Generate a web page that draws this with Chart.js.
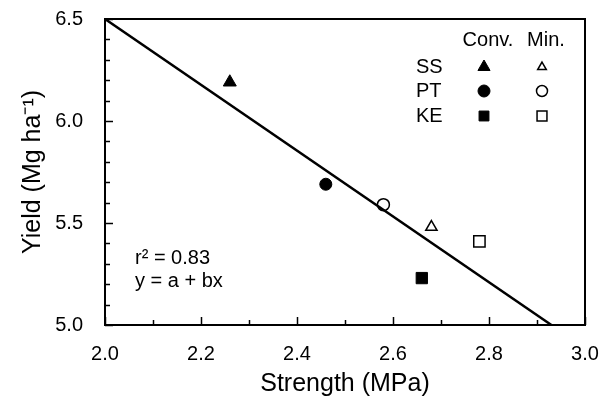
<!DOCTYPE html>
<html>
<head>
<meta charset="utf-8">
<script src="https://cdn.jsdelivr.net/npm/chart.js@4/dist/chart.umd.min.js"></script>
<style>
html,body{margin:0;padding:0;background:#fff;}
#wrap{width:600px;height:397px;}
</style>
</head>
<body>
<div id="wrap"><canvas id="c" width="600" height="397"></canvas></div>
<script>
// ---- data ----
const treatments = ["SS", "PT", "KE"];
const treatmentStyles = ["triangle", "circle", "rect"];
const convStrength = [2.26, 2.46, 2.66];
const convYield    = [6.19, 5.69, 5.23];
const minStrength  = [2.68, 2.58, 2.78];
const minYield     = [5.48, 5.59, 5.41];
const regStrength  = [2.0, 2.93];
const regYield     = [6.5, 5.0];
const xTicks = [2.0, 2.2, 2.4, 2.6, 2.8, 3.0];
const yTicks = [5.0, 5.5, 6.0, 6.5];
const fitText = ["r² = 0.83", "y = a + bx"];
const legendHeader = ["Conv.", "Min."];

const FONT = "'Liberation Sans', Arial, Helvetica, sans-serif";
const convRadius = [7.5, 6, 8];
const minRadius  = [6.5, 6, 8];

const toXY = (xs, ys) => xs.map((x, i) => ({x: x, y: ys[i]}));

const decor = {
  id: 'decor',
  afterDraw(chart) {
    const ctx = chart.ctx;
    const ca = chart.chartArea;
    const xs = chart.scales.x, ys = chart.scales.y;
    ctx.save();
    ctx.strokeStyle = '#000';
    ctx.lineWidth = 2;
    ctx.strokeRect(ca.left, ca.top, ca.right - ca.left, ca.bottom - ca.top);
    ctx.lineWidth = 1.5;
    for (let v = 2.0; v <= 3.0001; v += 0.1) {
      const px = Math.round(xs.getPixelForValue(v)) + 0.5;
      const major = Math.abs(Math.round(v * 10) % 2) === 0;
      const len = major ? 8 : 5;
      ctx.beginPath();
      ctx.moveTo(px, ca.bottom); ctx.lineTo(px, ca.bottom - len);
      ctx.stroke();
    }
    for (let v = 5.0; v <= 6.5001; v += 0.1) {
      const py = Math.round(ys.getPixelForValue(v)) + 0.5;
      const major = Math.abs(Math.round(v * 10) % 5) === 0;
      const len = major ? 8 : 5;
      ctx.beginPath();
      ctx.moveTo(ca.left, py); ctx.lineTo(ca.left + len, py);
      ctx.stroke();
    }
    ctx.fillStyle = '#000';
    ctx.font = '20px ' + FONT;
    ctx.textBaseline = 'middle';
    ctx.textAlign = 'left';
    ctx.fillText(fitText[0], ca.left + 30, ca.top + 239);
    ctx.fillText(fitText[1], ca.left + 30, ca.top + 262);
    const colConv = ca.right - 101, colMin = ca.right - 43, labX = ca.right - 169;
    ctx.textAlign = 'center';
    ctx.fillText(legendHeader[0], colConv + 4, ca.top + 21);
    ctx.fillText(legendHeader[1], colMin + 4, ca.top + 21);
    const rowY = [ca.top + 48, ca.top + 72, ca.top + 97];
    ctx.textAlign = 'left';
    treatments.forEach((t, i) => {
      ctx.fillStyle = '#000';
      ctx.fillText(t, labX, rowY[i]);
      ctx.fillStyle = '#000'; ctx.strokeStyle = '#000'; ctx.lineWidth = 1;
      Chart.helpers.drawPoint(ctx, {pointStyle: treatmentStyles[i], radius: [7, 6, 7][i], rotation: 0, borderWidth: 1}, colConv, rowY[i]);
      ctx.fillStyle = '#fff'; ctx.lineWidth = 1.5;
      Chart.helpers.drawPoint(ctx, {pointStyle: treatmentStyles[i], radius: [5, 5.5, 7][i], rotation: 0, borderWidth: 1.5}, colMin, rowY[i]);
    });
    ctx.restore();
  }
};

new Chart(document.getElementById('c'), {
  type: 'scatter',
  data: {
    datasets: [
      {
        label: 'Regression',
        type: 'line',
        data: toXY(regStrength, regYield),
        borderColor: '#000',
        borderWidth: 2.5,
        pointRadius: 0,
        fill: false
      },
      {
        label: legendHeader[0],
        data: toXY(convStrength, convYield),
        pointStyle: treatmentStyles,
        pointRadius: convRadius,
        backgroundColor: '#000',
        borderColor: '#000',
        borderWidth: 1
      },
      {
        label: legendHeader[1],
        data: toXY(minStrength, minYield),
        pointStyle: treatmentStyles,
        pointRadius: minRadius,
        backgroundColor: '#fff',
        borderColor: '#000',
        borderWidth: 1.5
      }
    ]
  },
  options: {
    responsive: false,
    animation: false,
    events: [],
    layout: {padding: {top: 19, right: 15, left: 0, bottom: 0}},
    plugins: {legend: {display: false}, tooltip: {enabled: false}},
    scales: {
      x: {
        type: 'linear', min: 2.0, max: 3.0,
        grid: {display: false},
        border: {display: false},
        afterFit(s) { s.height = 72; s.paddingRight = 0; s.paddingLeft = 0; },
        afterBuildTicks(s) { s.ticks = xTicks.map(v => ({value: v})); },
        ticks: {
          padding: 9, color: '#000',
          font: {family: FONT, size: 20},
          callback: v => Number(v).toFixed(1)
        },
        title: {
          display: true, text: 'Strength (MPa)', color: '#000',
          font: {family: FONT, size: 25, lineHeight: 1}, padding: {top: 0, bottom: 0}
        }
      },
      y: {
        type: 'linear', min: 5.0, max: 6.5,
        grid: {display: false},
        border: {display: false},
        afterFit(s) { s.width = 105; s.paddingTop = 0; s.paddingBottom = 0; },
        afterBuildTicks(s) { s.ticks = yTicks.map(v => ({value: v})); },
        ticks: {
          padding: 14, color: '#000',
          font: {family: FONT, size: 20},
          callback: v => Number(v).toFixed(1)
        },
        title: {
          display: true, text: 'Yield (Mg ha⁻¹)', color: '#000',
          font: {family: FONT, size: 25, lineHeight: 1}, padding: {top: 21, bottom: 0}
        }
      }
    }
  },
  plugins: [decor]
});
</script>
</body>
</html>
